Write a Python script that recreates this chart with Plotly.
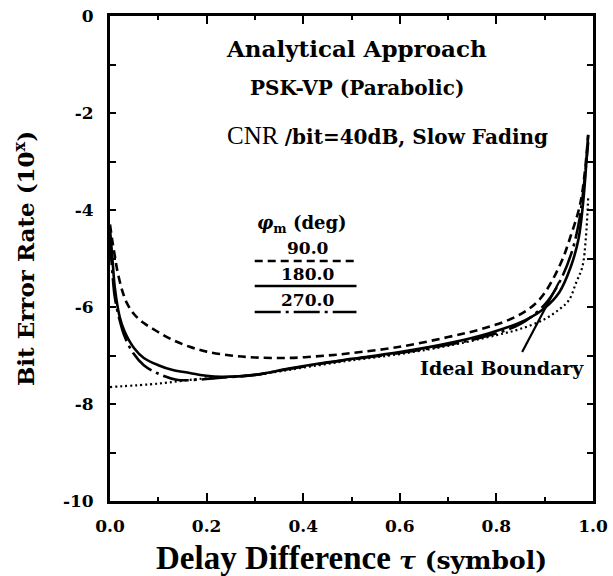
import plotly.graph_objects as go

# ---- data ----
tau_90 = [0, 0.005, 0.01, 0.015, 0.025, 0.035, 0.05, 0.07, 0.097, 0.13, 0.165, 0.2, 0.25, 0.3, 0.37,
          0.45, 0.5, 0.6, 0.7, 0.77, 0.84, 0.888, 0.93, 0.955, 0.975, 0.99]
ber_90 = [-4.3, -4.65, -4.95, -5.24, -5.65, -5.92, -6.15, -6.33, -6.5, -6.68, -6.82, -6.92, -7.0, -7.04,
          -7.05, -7.0, -6.95, -6.82, -6.62, -6.45, -6.2, -5.86, -5.17, -4.5, -3.8, -2.45]

tau_180 = [0, 0.005, 0.01, 0.02, 0.03, 0.05, 0.07, 0.1, 0.13, 0.165, 0.2, 0.23, 0.3, 0.37, 0.45, 0.5,
           0.6, 0.7, 0.785, 0.86, 0.9, 0.93, 0.954, 0.97, 0.98, 0.99]
ber_180 = [-4.4, -5.0, -5.6, -6.2, -6.5, -6.85, -7.05, -7.2, -7.3, -7.36, -7.42, -7.44, -7.4, -7.27,
           -7.14, -7.07, -6.93, -6.75, -6.54, -6.27, -6.02, -5.7, -5.17, -4.6, -3.8, -2.45]

tau_270 = [0, 0.005, 0.01, 0.02, 0.03, 0.048, 0.07, 0.097, 0.138, 0.18, 0.23, 0.3, 0.37, 0.45, 0.5,
           0.6, 0.7, 0.78, 0.85, 0.9, 0.93, 0.955, 0.97, 0.98, 0.99]
ber_270 = [-4.6, -5.3, -5.8, -6.27, -6.6, -6.95, -7.2, -7.36, -7.5, -7.5, -7.46, -7.4, -7.28, -7.15,
           -7.08, -6.95, -6.78, -6.6, -6.35, -5.95, -5.5, -4.9, -4.3, -3.6, -2.6]

tau_ideal = [0, 0.1, 0.15, 0.2, 0.3, 0.4, 0.5, 0.6, 0.7, 0.8, 0.85, 0.9, 0.93, 0.95, 0.965, 0.978,
             0.985, 0.99]
ber_ideal = [-7.65, -7.58, -7.52, -7.47, -7.4, -7.25, -7.1, -6.97, -6.8, -6.58, -6.45, -6.25, -6.05,
             -5.86, -5.5, -5.17, -4.6, -3.76]

x_tickvals = [0, 0.2, 0.4, 0.6, 0.8, 1.0]
x_ticktext = ["0.0", "0.2", "0.4", "0.6", "0.8", "1.0"]
y_tickvals = [0, -2, -4, -6, -8, -10]
y_ticktext = ["0", "-2", "-4", "-6", "-8", "-10"]
phi_labels = ["90.0", "180.0", "270.0"]

SLAB = "DejaVu Serif"
TIMES = "Liberation Serif"
LW = 2.6
DASH = "8px,5px"
DASHDOT = "26px,5px,3px,5px"

fig = go.Figure()
fig.add_trace(go.Scatter(x=tau_90, y=ber_90, mode="lines", line=dict(color="black", width=LW, dash=DASH),
                         line_shape="spline"))
fig.add_trace(go.Scatter(x=tau_180, y=ber_180, mode="lines", line=dict(color="black", width=LW),
                         line_shape="spline"))
fig.add_trace(go.Scatter(x=tau_270, y=ber_270, mode="lines",
                         line=dict(color="black", width=LW, dash=DASHDOT), line_shape="spline"))
fig.add_trace(go.Scatter(x=tau_ideal, y=ber_ideal, mode="lines",
                         line=dict(color="black", width=2.2, dash="2px,3px"), line_shape="spline"))


def px_x(px):
    return (px - 110) / 484.0


def px_y(py):
    return -(py - 16) / 48.5


ann = []
def txt(text, px, py, size, family=SLAB, xanchor="center"):
    ann.append(dict(text=text, x=px_x(px), y=px_y(py), xref="x", yref="y", showarrow=False,
                    xanchor=xanchor, yanchor="middle", font=dict(family=family, size=size, color="black")))

txt("<b>Analytical Approach</b>", 357, 48, 23)
txt("<b>PSK-VP (Parabolic)</b>", 358, 88, 20)
txt("<span style='font-family:Liberation Serif;font-size:25px'>CNR</span> <b>/bit=40dB, Slow Fading</b>",
    388, 135, 20)
txt("<b><i>φ</i><sub>m</sub> (deg)</b>", 302, 224, 18)
txt("<b>" + phi_labels[0] + "</b>", 308, 248, 17)
txt("<b>" + phi_labels[1] + "</b>", 308, 274, 17)
txt("<b>" + phi_labels[2] + "</b>", 308, 300, 17)
txt("<b>Ideal Boundary</b>", 503, 368, 19)

shapes = []
def seg(x0, y0, x1, y1, dash="solid", width=2.4):
    shapes.append(dict(type="line", xref="x", yref="y", x0=px_x(x0), y0=px_y(y0), x1=px_x(x1), y1=px_y(y1),
                       line=dict(color="black", width=width, dash=dash)))

seg(255, 261, 357, 261, DASH)
seg(255, 286, 357, 286)
seg(255, 312, 357, 312, DASHDOT)
seg(560, 282, 523, 352, width=2.2)

fig.update_layout(
    width=613, height=576,
    margin=dict(l=110, r=20, t=16, b=75),
    paper_bgcolor="white", plot_bgcolor="white",
    showlegend=False,
    annotations=ann, shapes=shapes,
    font=dict(family=SLAB, color="black"),
)
fig.update_xaxes(
    range=[0, 1], tickvals=x_tickvals, ticktext=["<b>%s</b>" % t for t in x_ticktext],
    ticks="inside", ticklen=8, tickwidth=2, tickcolor="black",
    minor=dict(dtick=0.1, tick0=0, ticks="inside", ticklen=4, tickwidth=2, tickcolor="black"),
    showline=True, linewidth=3, linecolor="black", mirror="ticks",
    showgrid=False, zeroline=False, ticklabelstandoff=8, automargin=False,
    tickfont=dict(family=SLAB, size=17, color="black"),
    title=dict(text="<b>Delay Difference</b> <span style='font-family:DejaVu Serif;font-size:25px'><b><i>τ</i> (symbol)</b></span>",
               font=dict(family=TIMES, size=33, color="black"), standoff=12),
)
fig.update_yaxes(
    range=[-10, 0], tickvals=y_tickvals, ticktext=["<b>%s</b>" % t for t in y_ticktext],
    ticks="inside", ticklen=6, tickwidth=2, tickcolor="black",
    minor=dict(dtick=1, tick0=0, ticks="inside", ticklen=6, tickwidth=2, tickcolor="black"),
    showline=True, linewidth=3, linecolor="black", mirror="ticks",
    showgrid=False, zeroline=False, ticklabelstandoff=10, automargin=False,
    tickfont=dict(family=SLAB, size=17, color="black"),
    title=dict(text="<b>Bit Error Rate (10<sup>x</sup>)</b>", font=dict(family=SLAB, size=23, color="black"),
               standoff=22),
)

fig.write_html("out.html")
